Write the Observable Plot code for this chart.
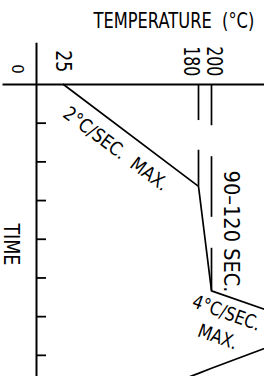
<!DOCTYPE html>
<html>
<head>
<meta charset="utf-8">
<script src="https://cdn.jsdelivr.net/npm/d3@7"></script>
<script src="https://cdn.jsdelivr.net/npm/@observablehq/plot@0.6"></script>
<style>
  html, body { margin: 0; padding: 0; background: white; overflow: hidden; }
</style>
</head>
<body>
<div id="chart"></div>
<script>
// Reflow profile (schematic): temperature (°C) across, time (s) downward
const profileTemp = [25, 180, 200, 250, 200, 180, 158];
const profileTime = [0, 79, 160, 189, 220, 224, 229.5];

// dimension (extension) line segments
const dimTemp  = [180, 180, 200, 200, 200];
const dimStart = [0, 51, 0, 56, 127];
const dimEnd   = [28, 79, 32, 103, 160];

// time ticks (seconds)
const timeTicks = [30, 60, 90, 120, 150, 180, 210];

// temperature tick labels
const tempTicks = [25, 180, 200];
const tempLabels = ["25", "180", "200"];

const profile = profileTemp.map((t, i) => ({temp: t, time: profileTime[i]}));
const dims = dimTemp.map((t, i) => ({temp: t, y1: dimStart[i], y2: dimEnd[i]}));
const tickLab = tempTicks.map((t, i) => ({temp: t, label: tempLabels[i]}));

const font = "DejaVu Sans";
const tickText = (d, dx) => Plot.text([d], {x: "temp", y: -18, dx, text: "label", rotate: 90, fontSize: 22, textAnchor: "middle", lineAnchor: "middle"});

const svg = Plot.plot({
  width: 264,
  height: 376,
  marginLeft: 0,
  marginRight: 228,
  marginTop: 0,
  marginBottom: 0,
  style: {overflow: "hidden", background: "white", fontFamily: font, color: "black"},
  x: {type: "linear", domain: [0, 25, 180, 200, 250], range: [36, 63, 198, 211, 318], axis: null},
  y: {domain: [-65.1, 226.4], range: [0, 376], axis: null},
  marks: [
    // axes lines
    Plot.ruleY([0], {x1: -31, x2: 250, stroke: "black", strokeWidth: 2}),
    Plot.ruleX([0], {y1: -32, y2: 226.4, stroke: "black", strokeWidth: 2}),
    Plot.axisY(timeTicks, {anchor: "right", tickSize: 9, tickFormat: () => "", label: null, strokeWidth: 1.8}),
    // dimension lines
    Plot.ruleX(dims, {x: "temp", y1: "y1", y2: "y2", stroke: "black", strokeWidth: 1.7}),
    // profile
    Plot.line(profile, {x: "temp", y: "time", stroke: "black", strokeWidth: 1.7, curve: "linear"}),
    // tick labels
    Plot.text(["0"], {x: 0, y: -12, dx: -19.5, rotate: 90, fontSize: 15, textAnchor: "middle", lineAnchor: "middle"}),
    tickText(tickLab[0], 0),
    tickText(tickLab[1], -7),
    tickText(tickLab[2], 3),
    // title
    Plot.text(["TEMPERATURE\u00a0\u00a0(°C)"], {x: 220, y: -43.4, fontSize: 22, textAnchor: "end", lineAnchor: "bottom"}),
    // time label
    Plot.text(["TIME"], {x: 0, y: 124, dx: -25.5, rotate: 90, fontSize: 20.5, textAnchor: "middle", lineAnchor: "middle"}),
    // annotations
    Plot.text(["2°C/SEC.\u00a0\u00a0MAX."], {x: 85, y: 50, rotate: 37, fontSize: 19, textAnchor: "middle", lineAnchor: "middle"}),
    Plot.text(["90–120 SEC."], {x: 200, y: 114, dx: 19.5, rotate: 90, fontSize: 20.5, textAnchor: "middle", lineAnchor: "middle"}),
    Plot.text(["4°C/SEC.\nMAX."], {x: 206, y: 185, dx: -1.5, rotate: 20, fontSize: 19, lineHeight: 1.35, textAnchor: "middle", lineAnchor: "middle"})
  ]
});

document.getElementById("chart").appendChild(svg);

// narrow the glyphs to match the condensed drafting lettering (target lengths in px)
const targets = [
  ["TEMPERATURE", 161],
  ["25", 22],
  ["180", 30],
  ["200", 30],
  ["TIME", 42],
  ["2°C", 126],
  ["90–120", 122],
  ["4°C", 71]
];
svg.querySelectorAll("text").forEach(t => {
  const s = t.textContent;
  const hit = targets.find(([k]) => s.startsWith(k));
  if (!hit) return;
  const first = t.querySelector("tspan");
  const len = first ? first.getComputedTextLength() : t.getComputedTextLength();
  const sc = hit[1] / len;
  t.setAttribute("transform", (t.getAttribute("transform") || "") + ` scale(${sc.toFixed(3)},1)`);
});
</script>
</body>
</html>
